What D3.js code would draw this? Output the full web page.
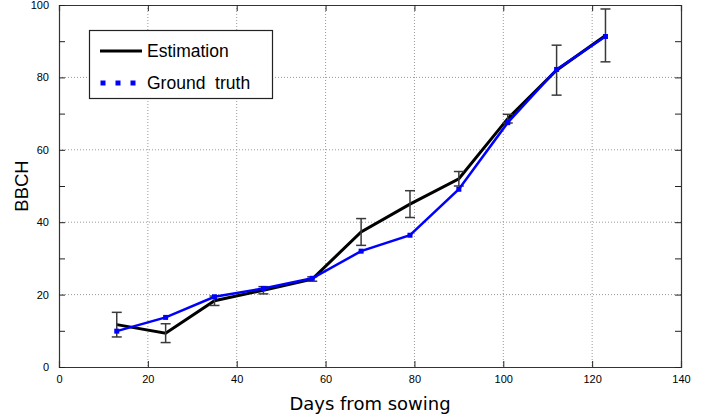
<!DOCTYPE html>
<html><head><meta charset="utf-8">
<script src="https://cdn.jsdelivr.net/npm/d3@7"></script>
<style>body{margin:0;background:#fff}svg{display:block}</style>
</head><body>
<svg id="c" width="703" height="415"></svg>
<script>
const days = [13, 24, 35, 46, 57, 68, 79, 90, 101, 112, 123];
const estimation = [11.7, 9.35, 18.3, 21.2, 24.3, 37.3, 45.0, 52.0, 68.6, 82.0, 91.6];
const estError = [3.4, 2.6, 1.3, 1.0, 0.6, 3.7, 3.7, 2.0, 1.2, 6.9, 7.3];
const groundTruth = [9.9, 13.7, 19.4, 21.7, 24.5, 32.0, 36.4, 49.1, 67.5, 82.2, 91.3];
const xTicks = [0, 20, 40, 60, 80, 100, 120, 140];
const yTicks = [0, 20, 40, 60, 80, 100];
const yMinorTicks = [0, 10, 20, 30, 40, 50, 60, 70, 80, 90, 100];
const legendLabels = ["Estimation", "Ground  truth"];

const svg = d3.select("#c");
const L = 59, R = 681, T = 5, B = 367;
const x = d3.scaleLinear().domain([0, 140]).range([L, R]);
const y = d3.scaleLinear().domain([0, 100]).range([B, T]);
const tickFont = "Liberation Sans, Arial, sans-serif";

// grid
const g = svg.append("g");
g.selectAll(".gx").data(xTicks.slice(1, -1)).enter().append("line")
  .attr("x1", d => x(d)).attr("x2", d => x(d)).attr("y1", T).attr("y2", B)
  .attr("stroke", "#9a9a9a").attr("stroke-width", 1).attr("stroke-dasharray", "1,2");
g.selectAll(".gy").data(yTicks.slice(1, -1)).enter().append("line")
  .attr("y1", d => y(d)).attr("y2", d => y(d)).attr("x1", L).attr("x2", R)
  .attr("stroke", "#9a9a9a").attr("stroke-width", 1).attr("stroke-dasharray", "1,2");

// axes with inward ticks
const axB = d3.axisBottom(x).tickValues(xTicks).tickSize(-6).tickPadding(8).tickFormat(d3.format("d"));
const axT = d3.axisTop(x).tickValues(xTicks).tickSize(-6).tickFormat("");
const axLft = d3.axisLeft(y).tickValues(yMinorTicks).tickSize(-6).tickPadding(10)
  .tickFormat(d => d % 20 === 0 ? d : "");
const axRt = d3.axisRight(y).tickValues(yMinorTicks).tickSize(-6).tickFormat("");
function style(sel) {
  sel.selectAll("path").attr("stroke", "#333");
  sel.selectAll("line").attr("stroke", "#222");
  sel.selectAll("text").attr("font-family", tickFont).attr("font-size", 11).attr("fill", "#000");
}
svg.append("g").attr("transform", `translate(0,${B})`).call(axB).call(style);
svg.append("g").attr("transform", `translate(0,${T})`).call(axT).call(style);
svg.append("g").attr("transform", `translate(${L},0)`).call(axLft).call(style);
svg.append("g").attr("transform", `translate(${R},0)`).call(axRt).call(style);
svg.selectAll(".domain").attr("stroke-width", 1.2);

// estimation line
const line = d3.line().x(d => x(d[0])).y(d => y(d[1]));
svg.append("path").datum(days.map((d, i) => [d, estimation[i]]))
  .attr("d", line).attr("fill", "none").attr("stroke", "#000").attr("stroke-width", 3);

// error bars
const eb = svg.append("g").attr("stroke", "#3a3a3a").attr("stroke-width", 1.5);
days.forEach((d, i) => {
  const lo = estimation[i] - estError[i], hi = estimation[i] + estError[i];
  eb.append("line").attr("x1", x(d)).attr("x2", x(d)).attr("y1", y(lo)).attr("y2", y(hi));
  eb.append("line").attr("x1", x(d) - 5).attr("x2", x(d) + 5).attr("y1", y(lo)).attr("y2", y(lo));
  eb.append("line").attr("x1", x(d) - 5).attr("x2", x(d) + 5).attr("y1", y(hi)).attr("y2", y(hi));
});

// ground truth
svg.append("path").datum(days.map((d, i) => [d, groundTruth[i]]))
  .attr("d", line).attr("fill", "none").attr("stroke", "#0000ff").attr("stroke-width", 2.5);
svg.selectAll(".gt").data(days).enter().append("rect")
  .attr("x", (d) => x(d) - 2.5).attr("y", (d, i) => y(groundTruth[i]) - 2.5)
  .attr("width", 5).attr("height", 5).attr("fill", "#0000ff");

// legend
const lg = svg.append("g");
lg.append("rect").attr("x", 89.5).attr("y", 30.5).attr("width", 183).attr("height", 68)
  .attr("fill", "#fff").attr("stroke", "#222").attr("stroke-width", 1.2);
lg.append("line").attr("x1", 100).attr("x2", 142).attr("y1", 51).attr("y2", 51)
  .attr("stroke", "#000").attr("stroke-width", 3);
[103, 118, 133].forEach(px => lg.append("rect").attr("x", px - 2.5).attr("y", 80.5)
  .attr("width", 5).attr("height", 5).attr("fill", "#0000ff"));
lg.append("text").attr("x", 147).attr("y", 57).text(legendLabels[0])
  .attr("font-family", tickFont).attr("font-size", 17.5);
lg.append("text").attr("x", 147).attr("y", 89).text(legendLabels[1]).attr("xml:space", "preserve")
  .style("white-space", "pre")
  .attr("font-family", tickFont).attr("font-size", 17.5);

// axis labels
svg.append("text").attr("x", 370).attr("y", 410).attr("text-anchor", "middle")
  .attr("font-family", "DejaVu Sans, sans-serif").attr("font-size", 18).text("Days from sowing");
svg.append("text").attr("transform", "translate(28,186) rotate(-90)").attr("text-anchor", "middle")
  .attr("font-family", tickFont).attr("font-size", 18.5).text("BBCH");
</script>
</body></html>
